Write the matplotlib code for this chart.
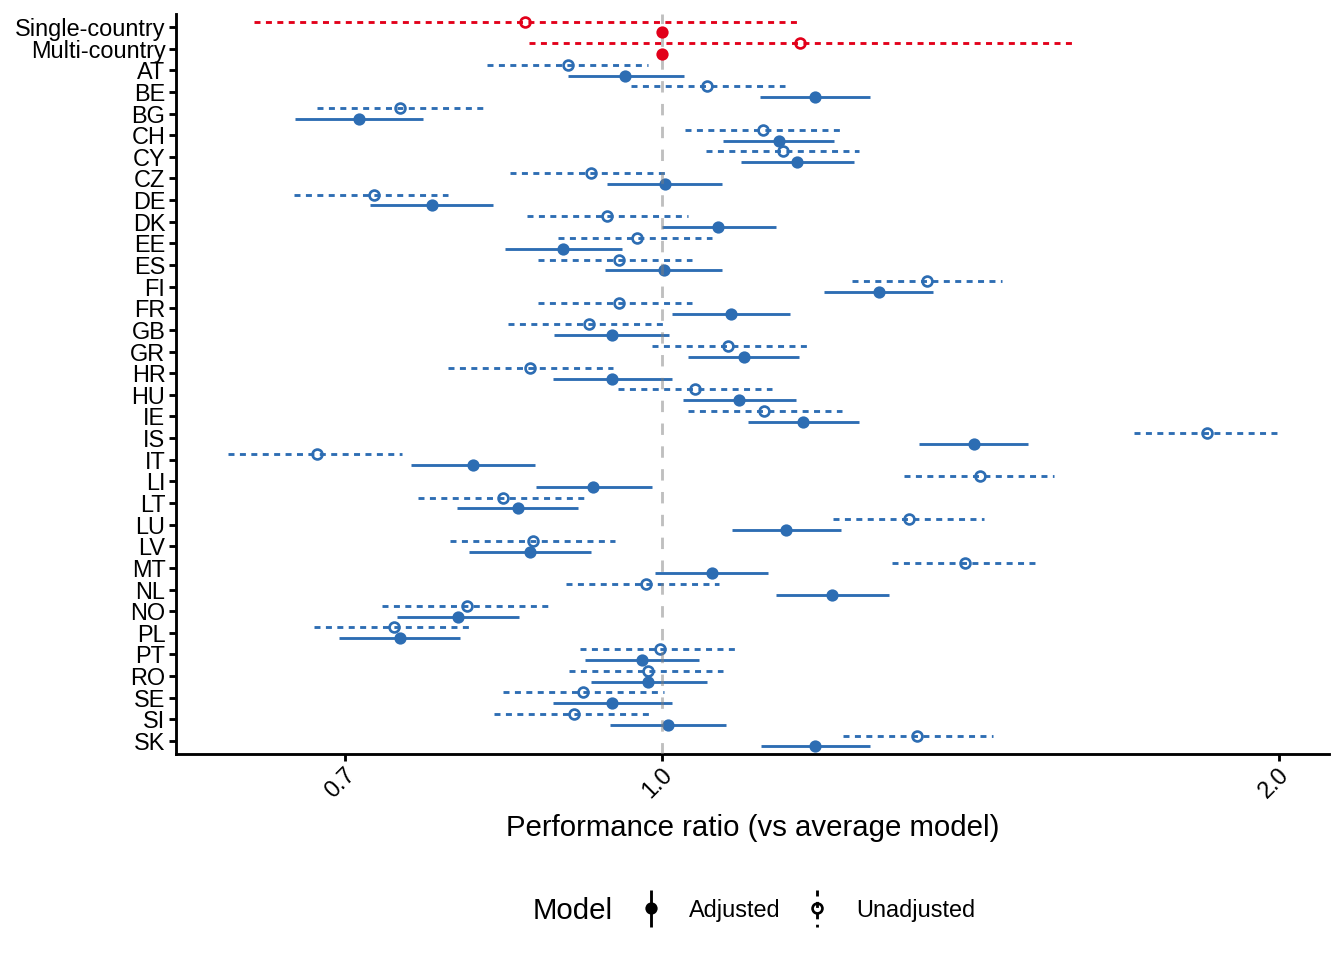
import numpy as np
import matplotlib
matplotlib.use("Agg")
import matplotlib.pyplot as plt
import matplotlib.transforms as mtransforms
from matplotlib.ticker import NullLocator

plt.rcParams['font.family'] = ['Liberation Sans', 'DejaVu Sans']

# rows, top to bottom
labels = ["Single-country", "Multi-country", "AT", "BE", "BG", "CH", "CY", "CZ", "DE", "DK",
          "EE", "ES", "FI", "FR", "GB", "GR", "HR", "HU", "IE", "IS", "IT", "LI", "LT", "LU",
          "LV", "MT", "NL", "NO", "PL", "PT", "RO", "SE", "SI", "SK"]
pooled = ["Single-country", "Multi-country"]

unadj_est = [0.857, 1.167, 0.899, 1.052, 0.745, 1.120, 1.145, 0.923, 0.723, 0.940, 0.972, 0.952,
             1.346, 0.952, 0.921, 1.077, 0.862, 1.038, 1.121, 1.844, 0.678, 1.429, 0.836, 1.319,
             0.865, 1.406, 0.982, 0.803, 0.740, 0.997, 0.984, 0.915, 0.906, 1.332]
unadj_lo = [0.632, 0.861, 0.821, 0.965, 0.678, 1.026, 1.050, 0.843, 0.661, 0.859, 0.889, 0.870,
            1.238, 0.870, 0.841, 0.989, 0.786, 0.951, 1.029, 1.700, 0.614, 1.313, 0.760, 1.212,
            0.788, 1.294, 0.897, 0.730, 0.676, 0.912, 0.900, 0.836, 0.828, 1.225]
unadj_hi = [1.163, 1.585, 0.984, 1.148, 0.821, 1.221, 1.248, 1.005, 0.786, 1.029, 1.057, 1.034,
            1.465, 1.034, 1.001, 1.177, 0.946, 1.131, 1.224, 1.995, 0.746, 1.553, 0.917, 1.435,
            0.948, 1.529, 1.066, 0.880, 0.807, 1.085, 1.071, 1.002, 0.989, 1.451]

adj_est = [1.0, 1.0, 0.959, 1.187, 0.711, 1.140, 1.163, 1.003, 0.772, 1.065, 0.894, 1.002,
           1.276, 1.080, 0.945, 1.096, 0.945, 1.090, 1.171, 1.419, 0.808, 0.925, 0.850, 1.149,
           0.862, 1.057, 1.210, 0.795, 0.745, 0.978, 0.984, 0.945, 1.007, 1.187]
adj_lo = [1.0, 1.0, 0.899, 1.116, 0.662, 1.071, 1.092, 0.940, 0.720, 1.000, 0.838, 0.938,
          1.199, 1.011, 0.885, 1.029, 0.884, 1.024, 1.101, 1.335, 0.754, 0.868, 0.794, 1.081,
          0.805, 0.992, 1.136, 0.742, 0.695, 0.917, 0.923, 0.884, 0.943, 1.117]
adj_hi = [1.0, 1.0, 1.025, 1.263, 0.764, 1.213, 1.241, 1.070, 0.827, 1.137, 0.956, 1.070,
          1.356, 1.155, 1.008, 1.166, 1.011, 1.162, 1.248, 1.508, 0.867, 0.988, 0.910, 1.223,
          0.923, 1.126, 1.291, 0.851, 0.797, 1.042, 1.052, 1.011, 1.074, 1.263]

x_ticks = [0.7, 1.0, 2.0]
x_ticklabels = ["0.7", "1.0", "2.0"]

RED = "#E2001A"
BLUE = "#2D6DB3"
LW = 1.07
DOTTED = (0, (2.1, 1.9))
MS_FILLED = 4.6
MS_OPEN = 3.7
MEW_OPEN = 1.0

fig = plt.figure(figsize=(7, 5), dpi=192)
ax = fig.add_axes([176 / 1344, 1 - 754 / 960, (1329 - 176) / 1344, (754 - 14) / 960])

ypos = np.arange(len(labels))
for i, lab in enumerate(labels):
    col = RED if lab in pooled else BLUE
    ztop = 5 if lab in pooled else 3
    y_u = ypos[i] - 0.25
    y_a = ypos[i] + 0.25
    ax.plot([unadj_lo[i], unadj_hi[i]], [y_u, y_u], color=col, lw=LW, linestyle=DOTTED,
            zorder=ztop - 1)
    ax.plot(unadj_est[i], y_u, 'o', ms=MS_OPEN, mfc='none', mec=col, mew=MEW_OPEN, zorder=ztop)
    ax.plot([adj_lo[i], adj_hi[i]], [y_a, y_a], color=col, lw=LW, zorder=ztop - 1,
            solid_capstyle='butt')
    ax.plot(adj_est[i], y_a, 'o', ms=MS_FILLED, mfc=col, mec=col, mew=0, zorder=ztop)

ax.axvline(1.0, color='grey', alpha=0.5, lw=LW, linestyle=(0, (4, 4)), zorder=3.5)

# log x scale, limits with 5% expansion like ggplot
lo_all = np.log(min(min(unadj_lo), min(adj_lo)))
hi_all = np.log(max(max(unadj_hi), max(adj_hi)))
span = hi_all - lo_all
ax.set_xscale('log')
ax.set_xlim(np.exp(lo_all - 0.05 * span), np.exp(hi_all + 0.05 * span))
ax.set_xticks(x_ticks)
ax.set_xticklabels(x_ticklabels, rotation=45, ha='right', va='baseline',
                   rotation_mode='anchor')
ax.xaxis.set_minor_locator(NullLocator())

ax.set_yticks(ypos)
ax.set_yticklabels(labels)
ax.set_ylim(len(labels) - 0.4, -0.6)

for s in ['top', 'right']:
    ax.spines[s].set_visible(False)
for s in ['left', 'bottom']:
    ax.spines[s].set_linewidth(LW)
    ax.spines[s].set_color('black')

ax.tick_params(axis='both', length=2.75, width=LW, color='black', labelsize=8.8,
               labelcolor='black')
ax.tick_params(axis='y', pad=1.2)
ax.tick_params(axis='x', pad=5.6)
shift = mtransforms.ScaledTranslation(11 / 192, 0, fig.dpi_scale_trans)
for t in ax.get_xticklabels():
    t.set_transform(t.get_transform() + shift)

axc = (176 + 1329) / 2 / 1344
fig.text(axc, 1 - 836 / 960, "Performance ratio (vs average model)", ha='center',
         va='baseline', fontsize=11)

# legend drawn by hand (vertical key glyphs)
lax = fig.add_axes([0, 0, 1, 1])
lax.set_xlim(0, 1344)
lax.set_ylim(960, 0)
lax.axis('off')
lax.text(533, 919, "Model", fontsize=11, ha='left', va='baseline')
lax.plot([651, 651], [890, 927], color='black', lw=LW, solid_capstyle='butt')
lax.plot(651, 908, 'o', color='black', ms=MS_FILLED, mew=0)
lax.text(689, 917, "Adjusted", fontsize=8.8, ha='left', va='baseline')
lax.plot([817, 817], [890, 927], color='black', lw=LW, linestyle=DOTTED)
lax.plot(817, 908, 'o', mfc='none', mec='black', ms=MS_OPEN, mew=MEW_OPEN)
lax.text(856, 917, "Unadjusted", fontsize=8.8, ha='left', va='baseline')

fig.savefig("out.png", dpi=192, facecolor='white')
